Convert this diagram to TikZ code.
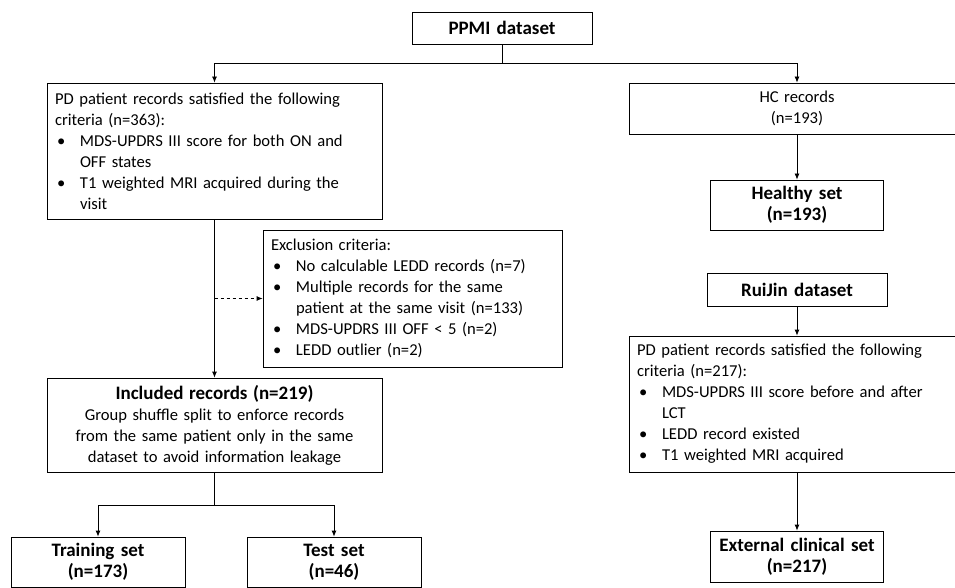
\documentclass[tikz,border=0pt]{standalone}
\usepackage{fontspec}
\setmainfont{Carlito}
\usetikzlibrary{arrows.meta}
\newcommand{\bitem}[1]{\par\hangindent=25pt\hangafter=1\noindent\makebox[25pt][l]{\hspace{2pt}\textbullet}#1\par}
\newcommand{\hd}[1]{{\fontsize{19}{21}\selectfont\bfseries #1}}
\begin{document}
\begin{tikzpicture}
  [x=1pt,y=-1pt,
  every node/.style={font=\fontsize{16.6}{21}\selectfont},
  box/.style={draw,line width=0.8pt,inner xsep=8pt,inner ysep=2pt},
  title/.style={box,align=center,font=\fontsize{19}{21}\selectfont\bfseries},
  list/.style={box,align=left},
  arr/.style={-{Latex[length=6pt,width=5pt]},line width=0.8pt},
  line/.style={line width=0.8pt}]
\useasboundingbox (0,0) rectangle (955,588);
\clip (0,0) rectangle (955,588);
% PPMI branch
\node[title,text width=164,minimum height=32] (ppmi) at (502,28) {PPMI dataset};
\node[list,text width=319,minimum height=136] (pdL) at (214.5,151)
  {PD patient records satisfied the following\newline criteria (n=363):
   \bitem{MDS-UPDRS III score for both ON and\newline OFF states}
   \bitem{T1 weighted MRI acquired during the\newline visit}};
\node[box,align=center,text width=320,minimum height=51] (hc) at (797,108.5)
  {HC records\\(n=193)};
\node[title,text width=157,minimum height=50] (healthy) at (797,205)
  {Healthy set\\(n=193)};
\node[list,text width=283,minimum height=137] (excl) at (412.5,298.5)
  {Exclusion criteria:
   \bitem{No calculable LEDD records (n=7)}
   \bitem{Multiple records for the same\newline patient at the same visit (n=133)}
   \bitem{MDS-UPDRS III OFF < 5 (n=2)}
   \bitem{LEDD outlier (n=2)}};
\node[box,align=center,text width=319,minimum height=94] (incl) at (214.5,425)
  {\hd{Included records (n=219)}\\Group shuffle split to enforce records\\from the same patient only in the same\\dataset to avoid information leakage};
\node[title,text width=158,minimum height=50] (train) at (98,562)
  {Training set\\(n=173)};
\node[title,text width=158,minimum height=50] (test) at (334,562)
  {Test set\\(n=46)};
% RuiJin branch
\node[title,text width=164,minimum height=33] (ruijin) at (797,289.5) {RuiJin dataset};
\node[list,text width=320,minimum height=136] (pdR) at (797,404)
  {PD patient records satisfied the following\newline criteria (n=217):
   \bitem{MDS-UPDRS III score before and after\newline LCT}
   \bitem{LEDD record existed}
   \bitem{T1 weighted MRI acquired}};
\node[title,text width=157,minimum height=51] (ext) at (797,556.5)
  {External clinical set\\(n=217)};
% connectors
\coordinate (split1) at (502,63);
\coordinate (split2) at (214.5,505);
\draw[line] (ppmi) -- (split1);
\draw[arr] (split1) -| (pdL);
\draw[arr] (split1) -| (hc);
\draw[arr] (hc) -- (healthy);
\draw[arr] (pdL) -- (incl);
\coordinate (dash) at (pdL.south |- excl.west);
\draw[arr,dashed] (dash) -- (excl.west);
\draw[line] (incl) -- (split2);
\draw[arr] (split2) -| (train);
\draw[arr] (split2) -| (test);
\draw[arr] (ruijin) -- (pdR);
\draw[arr] (pdR) -- (ext);
\end{tikzpicture}
\end{document}
